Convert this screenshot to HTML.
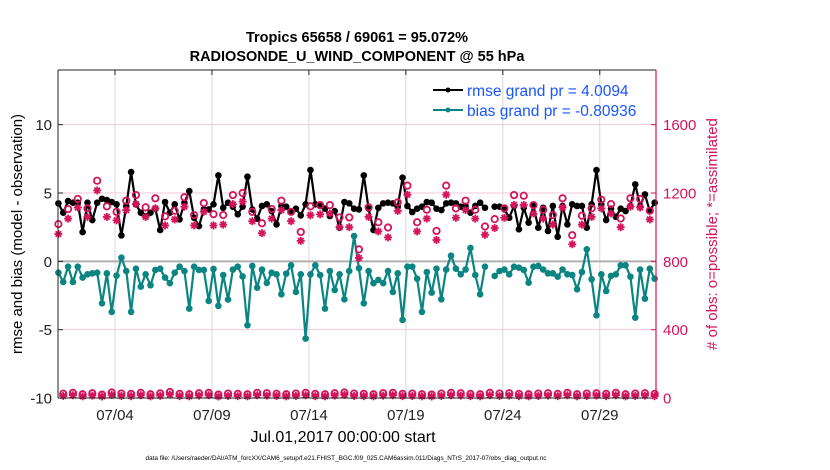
<!DOCTYPE html>
<html><head><meta charset="utf-8"><style>
html,body{margin:0;padding:0;background:#fff;}
svg{display:block;font-family:"Liberation Sans",Arial,sans-serif;}
</style></head><body>
<svg id="chart" width="830" height="470" viewBox="0 0 830 470" xmlns="http://www.w3.org/2000/svg">
<rect x="0" y="0" width="830" height="470" fill="#fff"/>
<text x="357" y="42" text-anchor="middle" font-size="14.5" font-weight="bold">Tropics 65658 / 69061 = 95.072%</text>
<text x="357" y="61" text-anchor="middle" font-size="14.5" font-weight="bold">RADIOSONDE_U_WIND_COMPONENT @ 55 hPa</text>
<g id="grid"></g>
<g id="marks"></g>
<g id="axes"></g>
<text transform="translate(22,234) rotate(-90)" text-anchor="middle" font-size="15">rmse and bias (model - observation)</text>
<text transform="translate(717,234) rotate(-90)" text-anchor="middle" font-size="15" fill="#d4145a"># of obs: o=possible; *=assimilated</text>
<text x="343" y="442" text-anchor="middle" font-size="16">Jul.01,2017 00:00:00 start</text>
<text x="346" y="460" text-anchor="middle" font-size="6.4">data file: /Users/raeder/DAI/ATM_forcXX/CAM6_setup/f.e21.FHIST_BGC.f09_025.CAM6assim.011/Diags_NTrS_2017-07/obs_diag_output.nc</text>
<g>
<line x1="433" y1="90" x2="463" y2="90" stroke="#000" stroke-width="2"/>
<circle cx="448" cy="90" r="2.5" fill="#000"/>
<text x="467" y="96" font-size="15.5" fill="#1a55ff">rmse grand pr = 4.0094</text>
<line x1="433" y1="110" x2="463" y2="110" stroke="#0b8582" stroke-width="2"/>
<circle cx="448" cy="110" r="2.5" fill="#0b8582"/>
<text x="467" y="116" font-size="15.5" fill="#1a55ff">bias grand pr = -0.80936</text>
</g>
</svg>
<script>
// ---- data ----
const rmse = [4.24,3.56,4.41,4.29,4.29,2.14,4.29,3.02,4.29,4.58,4.48,4.34,4.17,1.9,4.05,6.53,4.17,3.56,3.31,3.56,3.85,2.29,4.34,3.56,4.17,3.07,4.29,5.14,3.19,2.58,3.8,3.8,
4.17,6.29,3.92,4.29,4.0,3.44,4.0,6.19,3.8,3.12,4.05,4.17,3.68,2.7,4.05,4.0,3.61,3.85,3.36,4.17,6.68,4.17,4.05,3.85,3.31,3.68,2.46,4.34,4.24,3.85,3.8,
6.29,3.85,2.29,3.92,4.24,4.29,4.24,4.0,6.12,4.05,3.61,3.85,4.0,4.34,4.29,3.85,3.75,4.24,4.29,4.24,4.0,4.05,3.56,4.05,4.29,3.92,null,4.0,4.0,3.8,3.19,
4.05,2.34,3.92,2.83,4.05,2.46,3.92,2.22,4.05,1.8,4.05,2.7,4.17,4.05,4.05,2.46,4.17,6.68,4.17,3.02,3.85,3.26,3.85,3.68,4.05,5.63,4.05,4.9,3.68,4.29];
const bias = [-0.83,-1.51,-0.39,-1.51,-0.39,-1.19,-0.95,-0.88,-0.83,-3.07,-0.88,-3.7,-1.05,0.27,-0.71,-3.7,-0.54,-1.85,-0.95,-1.75,-0.63,-0.54,-1.19,-1.6,-0.83,-0.39,-0.71,-3.46,-0.39,-0.63,-0.63,-2.9,
-0.56,-3.26,-1.0,-2.8,-0.6,-0.39,-1.1,-4.68,-0.34,-1.93,-0.6,-1.58,-0.83,-0.95,-2.41,-0.9,-0.29,-2.24,-0.95,-5.65,-0.95,-0.29,-1.0,-3.46,-0.71,-2.1,-0.95,-2.78,-0.71,1.85,-0.5,
-3.07,-0.71,-1.6,-1.36,-1.6,-0.71,-2.24,-0.88,-4.29,-0.39,-0.39,-1.27,-3.7,-0.78,-2.29,-0.54,-2.78,-0.6,0.41,-0.54,-0.95,-0.6,0.98,-1.0,-2.41,-0.39,null,-1.07,-0.71,-0.6,-0.95,
-0.39,-0.46,-0.63,-1.56,-0.39,-0.34,-0.6,-0.88,-0.88,-1.12,-0.6,-0.95,-1.0,-2.05,-0.78,0.88,-1.31,-3.95,-0.95,-2.17,-1.07,-0.95,-0.29,-0.29,-1.12,-4.12,-0.6,-2.73,-0.54,-1.27];
const possibleMain = [1018,1106,1165,1110,1272,1122,1090,1155,1188,1116,1169,1063,1096,1175,1071,1141,
1076,1071,1188,1200,1090,1023,1106,1155,1090,972,1122,1129,1129,1057,1057,870,
1116,1029,998,1145,1243,1029,1102,978,1243,1110,1155,1102,1004,1047,1110,
1188,1184,1129,1102,1071,1169,953,1067,1110,1161,1135,1051,1169,1165,1096];
const assimMain = [960,1050,1115,1060,1215,1060,1040,1100,1135,1060,1110,1010,1045,1120,1010,1090,
1010,1015,1135,1150,1035,965,1050,1100,1035,920,1070,1075,1080,1000,1000,820,
1060,975,940,1095,1190,975,1050,925,1190,1055,1100,1050,955,995,1055,
1130,1130,1080,1050,1015,1115,900,1015,1060,1110,1080,1000,1120,1115,1045];
const possibleOff = [25,30,22,28,20,32,26,24,30,22,27,35,24,22,28,30,20,26,24,22,30,28,25,22,26,30,24,22,28,32,26,24,
22,28,30,24,26,22,20,26,30,28,24,22,30,26,28,24,22,26,28,24,30,22,26,28,24,30,22,26,28,24];
const assimOff = [12,16,10,14,9,18,12,11,16,10,13,20,11,10,14,16,9,12,11,10,16,14,12,10,12,16,11,10,14,18,12,11,
10,14,16,11,12,10,9,12,16,14,11,10,16,12,14,11,10,12,14,11,16,10,12,14,11,16,10,12,14,11];
const xTickDays = [3,8,13,18,23,28];
const xTickLabels = ["07/04","07/09","07/14","07/19","07/24","07/29"];
const leftTicks = [-10,-5,0,5,10];
const rightTicks = [0,400,800,1200,1600];
const firstDay = 0.08, stepDay = 0.25;

const PL=58, PR=656, PT=70, PB=398;
const xDom=[0.06,30.9], yL=[-10,14], yR=[0,1920];
const X = d => PL + (d-xDom[0])/(xDom[1]-xDom[0])*(PR-PL);
const YL = v => PB - (v-yL[0])/(yL[1]-yL[0])*(PB-PT);
const YR = v => PB - (v-yR[0])/(yR[1]-yR[0])*(PB-PT);
const NS="http://www.w3.org/2000/svg";
function mk(parent, tag, attrs){const e=document.createElementNS(NS,tag);for(const k in attrs)e.setAttribute(k,attrs[k]);parent.appendChild(e);return e;}
const grid=document.getElementById('grid'), marks=document.getElementById('marks'), axes=document.getElementById('axes');
const PINK="#d4145a", TEAL="#0b8582";

xTickDays.forEach((d,i)=>{
  const gl=mk(grid,'line',{x1:X(d),x2:X(d),y1:PT,y2:PB,stroke:'#d8d8d8','stroke-width':1});
  
  
});
leftTicks.forEach(v=>{
  if(v===-10) return;
  const gl=mk(grid,'line',{x1:PL,x2:PR,y1:YL(v),y2:YL(v),stroke:'#f4c8d8','stroke-width':1});
  
  
});
const zl=mk(grid,'line',{x1:PL,x2:PR,y1:YL(0),y2:YL(0),stroke:'#b0b0b0','stroke-width':2});



function series(vals,color,name){
  let d='',pen=false;
  vals.forEach((v,i)=>{
    if(v===null){pen=false;return;}
    const x=X(firstDay+i*stepDay), y=YL(v);
    d+=(pen?'L':'M')+x.toFixed(1)+' '+y.toFixed(1);pen=true;
  });
  const p=mk(marks,'path',{d:d,fill:'none',stroke:color,'stroke-width':2.2,'stroke-linejoin':'round'});
  
  
  vals.forEach((v,i)=>{
    if(v===null)return;
    const c=mk(marks,'circle',{cx:X(firstDay+i*stepDay),cy:YL(v),r:3.3,fill:color});
    
    
  });
}
series(rmse,'#000','rmse');
series(bias,TEAL,'bias');

function star(x,y){
  const g=mk(marks,'g',{stroke:PINK,'stroke-width':1.8});
  
  
  const r=4;
  mk(g,'line',{x1:x-r,y1:y,x2:x+r,y2:y});
  mk(g,'line',{x1:x,y1:y-r,x2:x,y2:y+r});
  mk(g,'line',{x1:x-r*0.7,y1:y-r*0.7,x2:x+r*0.7,y2:y+r*0.7});
  mk(g,'line',{x1:x-r*0.7,y1:y+r*0.7,x2:x+r*0.7,y2:y-r*0.7});
}
function ring(x,y){
  const c=mk(marks,'circle',{cx:x,cy:y,r:3.2,fill:'none',stroke:PINK,'stroke-width':1.8});
  
  
}
possibleMain.forEach((v,k)=>{const x=X(firstDay+(2*k)*stepDay);ring(x,YR(v));star(x,YR(assimMain[k]));});
possibleOff.forEach((v,k)=>{const x=X(firstDay+(2*k+1)*stepDay);ring(x,YR(v));star(x,YR(assimOff[k]));});

mk(axes,'line',{x1:PL,x2:PR,y1:PT,y2:PT,stroke:'#222','stroke-width':1});
mk(axes,'line',{x1:PL,x2:PR,y1:PB,y2:PB,stroke:'#222','stroke-width':1});
mk(axes,'line',{x1:PL,x2:PL,y1:PT,y2:PB,stroke:'#222','stroke-width':1});
mk(axes,'line',{x1:PR,x2:PR,y1:PT,y2:PB,stroke:PINK,'stroke-width':1.2});
xTickDays.forEach((d,i)=>{
  mk(axes,'line',{x1:X(d),x2:X(d),y1:PB,y2:PB-5,stroke:'#222'});
  mk(axes,'line',{x1:X(d),x2:X(d),y1:PT,y2:PT+5,stroke:'#222'});
  const t=mk(axes,'text',{x:X(d),y:420,'text-anchor':'middle','font-size':15,fill:'#222'});
  t.textContent=xTickLabels[i];
  
  
});
leftTicks.forEach(v=>{
  mk(axes,'line',{x1:PL,x2:PL+5,y1:YL(v),y2:YL(v),stroke:'#222'});
  const t=mk(axes,'text',{x:PL-6,y:YL(v)+5.5,'text-anchor':'end','font-size':15,fill:'#222'});
  t.textContent=String(v);
  
  
});
rightTicks.forEach(v=>{
  mk(axes,'line',{x1:PR-5,x2:PR,y1:YR(v),y2:YR(v),stroke:PINK});
  const t=mk(axes,'text',{x:PR+7,y:YR(v)+5.5,'text-anchor':'start','font-size':15,fill:PINK});
  t.textContent=String(v);
  
  
});
</script>
</body></html>
